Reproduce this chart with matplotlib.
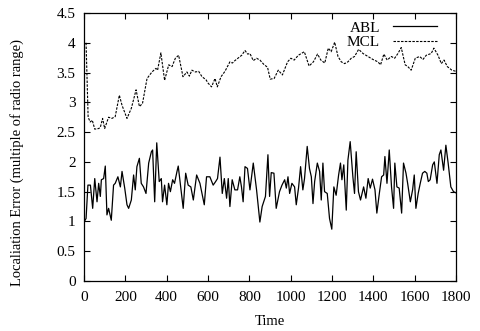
import matplotlib
matplotlib.use("Agg")
import matplotlib.pyplot as plt

# ABL series (solid)
abl_t = [5, 10, 19, 31, 42, 52, 63, 71, 79, 84, 95, 103, 111, 119, 132, 143, 151, 164, 176, 184,
         197, 208, 216, 229, 240, 248, 256, 268, 277, 288, 300, 313, 326, 332, 342, 352, 364, 374,
         380, 390, 401, 409, 418, 429, 438, 450, 456, 480, 492, 504, 517, 529, 545, 561, 582, 593,
         609, 625, 637, 646, 658, 669, 679, 690, 698, 706, 717, 730, 743, 754, 762, 770, 779, 791,
         803, 819, 835, 851, 862, 878, 890, 898, 906, 919, 930, 946, 958, 971, 979, 987, 995, 1006,
         1019, 1027, 1038, 1048, 1059, 1067, 1080, 1091, 1100, 1108, 1116, 1129, 1140, 1148, 1156,
         1164, 1177, 1188, 1199, 1209, 1220, 1232, 1241, 1248, 1257, 1269, 1277, 1288, 1301, 1309,
         1317, 1328, 1338, 1353, 1364, 1375, 1385, 1396, 1408, 1417, 1429, 1440, 1450, 1456, 1466,
         1477, 1488, 1498, 1504, 1514, 1525, 1537, 1546, 1558, 1566, 1579, 1590, 1598, 1606, 1617,
         1627, 1638, 1649, 1659, 1666, 1675, 1687, 1695, 1708, 1719, 1727, 1740, 1751, 1762, 1775,
         1788, 1800]
abl_v = [1.02, 1.05, 1.61, 1.61, 1.22, 1.72, 1.33, 1.64, 1.42, 1.70, 1.72, 1.93, 1.11, 1.22, 1.02,
         1.61, 1.64, 1.75, 1.58, 1.84, 1.56, 1.28, 1.22, 1.36, 1.78, 1.53, 1.92, 2.06, 1.64, 1.58,
         1.47, 1.98, 2.17, 2.20, 1.33, 2.32, 1.67, 1.72, 1.33, 1.61, 1.28, 1.64, 1.50, 1.70, 1.64,
         1.84, 1.93, 1.22, 1.81, 1.61, 1.58, 1.36, 1.78, 1.64, 1.28, 1.75, 1.75, 1.61, 1.67, 1.72,
         2.08, 1.47, 1.72, 1.39, 1.72, 1.25, 1.70, 1.53, 1.53, 1.75, 1.58, 1.33, 1.92, 1.89, 1.53,
         1.98, 1.53, 0.99, 1.25, 1.42, 2.12, 1.42, 1.82, 1.81, 1.22, 1.50, 1.61, 1.70, 1.56, 1.75,
         1.47, 1.64, 1.58, 1.28, 1.56, 1.92, 1.53, 1.72, 2.26, 1.89, 1.75, 1.30, 1.67, 1.98, 1.84,
         1.36, 1.98, 1.50, 1.47, 1.05, 0.87, 1.58, 1.44, 1.78, 1.98, 1.70, 1.95, 1.19, 2.03, 2.34,
         1.75, 1.47, 2.17, 1.50, 1.36, 1.58, 1.39, 1.72, 1.56, 1.71, 1.53, 1.14, 1.47, 1.75, 1.78,
         2.09, 1.64, 2.20, 1.58, 1.22, 1.98, 1.58, 1.56, 1.14, 1.98, 1.81, 1.64, 1.33, 1.53, 1.78,
         1.22, 1.47, 1.64, 1.81, 1.84, 1.81, 1.67, 1.70, 1.95, 2.00, 1.64, 2.12, 2.20, 1.86, 2.28,
         1.98, 1.58, 1.50, 1.48]

# MCL series (dashed)
mcl_t = [10, 20, 30, 40, 52, 71, 79, 90, 100, 119, 135, 151, 171, 184, 208, 229, 252, 268, 283,
         305, 329, 348, 356, 372, 390, 410, 426, 442, 458, 479, 498, 510, 522, 539, 555, 571, 590,
         601, 617, 634, 645, 663, 682, 706, 718, 730, 763, 779, 792, 803, 819, 835, 851, 872, 888,
         901, 920, 940, 960, 985, 1001, 1017, 1037, 1066, 1089, 1110, 1130, 1146, 1165, 1182, 1196,
         1213, 1229, 1245, 1261, 1277, 1293, 1309, 1329, 1350, 1374, 1398, 1422, 1435, 1451, 1467,
         1487, 1503, 1519, 1535, 1554, 1567, 1583, 1603, 1624, 1640, 1656, 1680, 1693, 1713, 1729,
         1742, 1758, 1780, 1800]
mcl_v = [4.00, 2.75, 2.67, 2.70, 2.55, 2.56, 2.58, 2.73, 2.56, 2.75, 2.73, 2.76, 3.12, 2.95, 2.73,
         2.90, 3.21, 2.93, 2.98, 3.40, 3.51, 3.57, 3.54, 3.83, 3.37, 3.63, 3.60, 3.74, 3.79, 3.43,
         3.51, 3.44, 3.54, 3.51, 3.52, 3.43, 3.38, 3.32, 3.26, 3.40, 3.26, 3.43, 3.52, 3.68, 3.66,
         3.70, 3.79, 3.87, 3.81, 3.82, 3.70, 3.74, 3.71, 3.63, 3.59, 3.39, 3.40, 3.54, 3.46, 3.68,
         3.74, 3.71, 3.79, 3.85, 3.61, 3.68, 3.81, 3.71, 3.66, 3.91, 3.85, 4.01, 3.77, 3.68, 3.65,
         3.68, 3.74, 3.77, 3.89, 3.82, 3.77, 3.72, 3.68, 3.63, 3.81, 3.71, 3.77, 3.74, 3.82, 3.92,
         3.63, 3.60, 3.54, 3.74, 3.77, 3.72, 3.79, 3.82, 3.91, 3.79, 3.65, 3.71, 3.60, 3.54, 3.52]

x_ticks = [0, 200, 400, 600, 800, 1000, 1200, 1400, 1600, 1800]
y_ticks = [0, 0.5, 1, 1.5, 2, 2.5, 3, 3.5, 4, 4.5]
y_tick_labels = ["0", "0.5", "1", "1.5", "2", "2.5", "3", "3.5", "4", "4.5"]

plt.rcParams['font.family'] = ['Liberation Serif', 'DejaVu Serif']

fig = plt.figure(figsize=(4.81, 3.31), dpi=100)
ax = fig.add_axes([84/481, 1 - 281/331, (456 - 84)/481, (281 - 13)/331])

ax.plot(abl_t, abl_v, color='black', lw=0.9, label='ABL')
ax.plot(mcl_t, mcl_v, color='black', lw=0.8, linestyle=(0, (2.2, 1.2)), label='MCL')

ax.set_xlim(0, 1800)
ax.set_ylim(0, 4.5)
ax.set_xticks(x_ticks)
ax.set_xticklabels([str(v) for v in x_ticks])
ax.set_yticks(y_ticks)
ax.set_yticklabels(y_tick_labels)
ax.tick_params(direction='in', top=True, right=True, length=4.5, width=0.8,
               labelsize=11)
ax.tick_params(axis='x', pad=7)
ax.tick_params(axis='y', pad=6)
for s in ax.spines.values():
    s.set_linewidth(0.9)

ax.set_xlabel('Time', fontsize=10.5)
ax.xaxis.set_label_coords(0.5, -0.127)
ax.xaxis.label.set_va('top')
ax.set_ylabel('Localiation Error (multiple of radio range)', fontsize=10.5)
ax.yaxis.set_label_coords(-0.162, 0.444)

leg = ax.legend(loc='upper right', frameon=False, markerfirst=False, fontsize=11,
                handlelength=2.9, handletextpad=0.85, labelspacing=0.05,
                borderaxespad=0.2, bbox_to_anchor=(0.974, 1.005))

fig.savefig('out.png', dpi=100)
